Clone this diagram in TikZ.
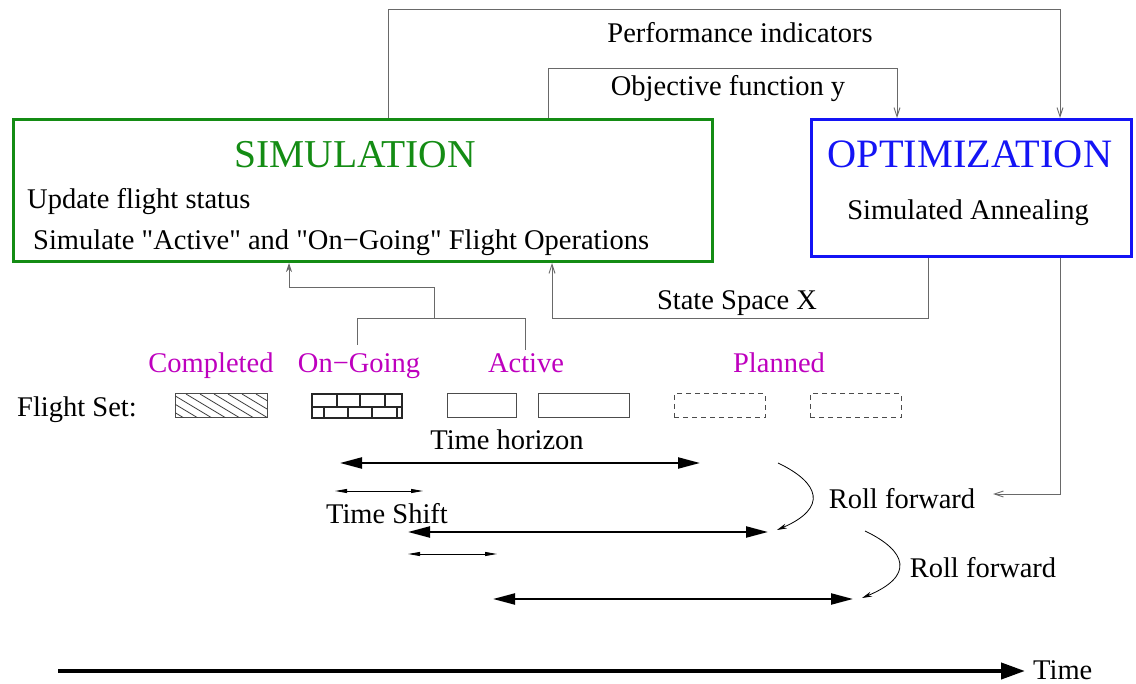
\documentclass[tikz,border=0pt]{standalone}
\usepackage{fontspec}
\setmainfont{Liberation Serif}
\newfontfamily\rawserif{Liberation Serif}
\usetikzlibrary{arrows.meta}
\definecolor{simgreen}{RGB}{20,140,20}
\definecolor{optblue}{RGB}{20,20,245}
\definecolor{flmag}{RGB}{190,0,190}
\definecolor{conn}{RGB}{105,105,105}
\begin{document}
\begin{tikzpicture}[x=1pt,y=-1pt,
  txt/.style={font=\fontsize{28.5}{34}\selectfont, inner sep=0pt, anchor=base},
  ttl/.style={font=\fontsize{39.5}{44}\selectfont, inner sep=0pt, anchor=base},
  lbl/.style={txt, text=flmag},
  conn/.style={draw=conn, line width=0.9pt},
  vtip/.style={-{Straight Barb[length=9pt,width=6pt]}},
  ftip/.style={-{Stealth[length=9pt,width=6pt]}},
  horiz/.style={line width=2.2pt, {Triangle[length=22pt,width=11pt]}-{Triangle[length=22pt,width=11pt]}},
  tshiftarr/.style={line width=0.9pt, {Triangle[length=12pt,width=4pt]}-{Triangle[length=12pt,width=4pt]}},
  fbox/.style={draw=black!70, line width=1pt, minimum height=24pt, inner sep=0pt},
  dbox/.style={fbox, dashed, dash pattern=on 5pt off 4pt},
  rollc/.style={line width=0.8pt, -{Stealth[length=10pt,width=5pt]}}
]
\useasboundingbox (0,0) rectangle (1136,684);

% main boxes
\node[draw=simgreen, line width=3pt, minimum width=699pt, minimum height=142pt, inner sep=0pt, anchor=north west] (sim) at (12,118) {};
\node[draw=optblue, line width=3pt, minimum width=320pt, minimum height=137pt, inner sep=0pt, anchor=north west] (opt) at (810,118) {};

\node[ttl, text=simgreen] (simt) at (355,168) {SIMULATION};
\node[txt, anchor=base west] (upd) at (27,209) {Update flight status};
\node[txt, anchor=base west] (sima) at (33,250) {\rawserif Simulate "Active" and "On\char"2212 Going" Flight Operations};
\node[ttl, text=optblue, font=\fontsize{40.3}{44}\selectfont] (optt) at (970,168) {OPTIMIZATION};
\node[txt] (sann) at (968,220) {Simulated Annealing};

% top feedback
\node[txt] (perf) at (740,43) {Performance indicators};
\node[txt] (obj) at (728,96) {Objective function y};
\coordinate (perfL) at (388,9);
\coordinate (perfR) at (1060,9);
\coordinate (objL) at (548,68);
\coordinate (objR) at (897,68);
\draw[conn, vtip] (sim.north -| perfL) -- (perfL) -- (perfR) -- (opt.north -| perfR);
\draw[conn, vtip] (sim.north -| objL) -- (objL) -- (objR) -- (opt.north -| objR);

% state space
\node[txt] (state) at (737,310) {State Space X};
\coordinate (stR) at (928,318);
\coordinate (stL) at (552,318);
\draw[conn, vtip] (opt.south -| stR) -- (stR) -- (stL) -- (sim.south -| stL);

% flight labels
\node[lbl] (lcomp) at (211,373) {Completed};
\node[lbl] (lon) at (359,373) {On\char"2212 Going};
\node[lbl] (lact) at (526,373) {Active};
\node[lbl] (lplan) at (779,373) {Planned};

% feed to simulation
\coordinate (fOn) at (357,345);
\coordinate (fOnT) at (357,318);
\coordinate (fAc) at (525,350);
\coordinate (fAcT) at (525,318);
\coordinate (fMid) at (434,318);
\coordinate (fMidT) at (434,287);
\coordinate (fL) at (289,287);
\draw[conn] (fOn) -- (fOnT) -- (fAcT) -- (fAc);
\draw[conn, ftip] (fMid) -- (fMidT) -- (fL) -- (sim.south -| fL);

% flight set
\node[txt, anchor=base west] (fset) at (17,417) {Flight Set:};
\node[fbox, minimum width=92pt] (bc) at (221,406) {};
\begin{scope}
  \clip (175,394) rectangle (267,418);
  \foreach \x in {130,144,...,270} {
    \draw[black!75, line width=0.8pt] (\x,394) -- ++(40,24);
  }
\end{scope}
\node[draw=black!85, line width=1.2pt, minimum width=90pt, minimum height=24pt, inner sep=0pt] (bo) at (357,406) {};
\draw[black!85, line width=1.2pt] (312,407) -- (402,407);
\foreach \x in {337,360,385} { \draw[black!85, line width=1.2pt] (\x,394) -- (\x,407); }
\foreach \x in {324,348,372,397} { \draw[black!85, line width=1.2pt] (\x,407) -- (\x,418); }
\node[fbox, minimum width=69pt] (ba1) at (481.5,406) {};
\node[fbox, minimum width=91pt] (ba2) at (583.5,406) {};
\node[dbox, minimum width=91pt] (bp1) at (719.5,406) {};
\node[dbox, minimum width=91pt] (bp2) at (855.5,406) {};

% time horizon arrows
\node[txt] (th) at (507,450) {Time horizon};
\coordinate (h1L) at (340,463);
\coordinate (h1R) at (700,463);
\draw[horiz] (h1L) -- (h1R);
\coordinate (s1L) at (335,491);
\coordinate (s1R) at (423,491);
\draw[tshiftarr] (s1L) -- (s1R);
\node[txt] (ts) at (387,523) {Time Shift};
\coordinate (h2L) at (408,532);
\coordinate (h2R) at (768,532);
\draw[horiz] (h2L) -- (h2R);
\coordinate (s2L) at (408,554);
\coordinate (s2R) at (497,554);
\draw[tshiftarr] (s2L) -- (s2R);
\coordinate (h3L) at (493,599);
\coordinate (h3R) at (853,599);
\draw[horiz] (h3L) -- (h3R);

% roll forward
\coordinate (r1a) at (778,463);
\coordinate (r1b) at (777,530);
\draw[rollc] (r1a) .. controls (820,483) and (828,508) .. (r1b);
\coordinate (r2a) at (865,531);
\coordinate (r2b) at (862,598);
\draw[rollc] (r2a) .. controls (907,551) and (915,576) .. (r2b);
\node[txt] (rf1) at (902,509) {Roll forward};
\node[txt] (rf2) at (983,577) {Roll forward};
\coordinate (oR) at (1060,494);
\coordinate (oL) at (993,494);
\draw[conn, vtip] (opt.south -| oR) -- (oR) -- (oL);

% time axis
\node[txt, anchor=base west] (time) at (1033,679) {Time};
\coordinate (tL) at (58,671);
\coordinate (tR) at (1025,671);
\draw[line width=4pt, -{Triangle[length=24pt,width=16pt]}] (tL) -- (tR);
\end{tikzpicture}
\end{document}
